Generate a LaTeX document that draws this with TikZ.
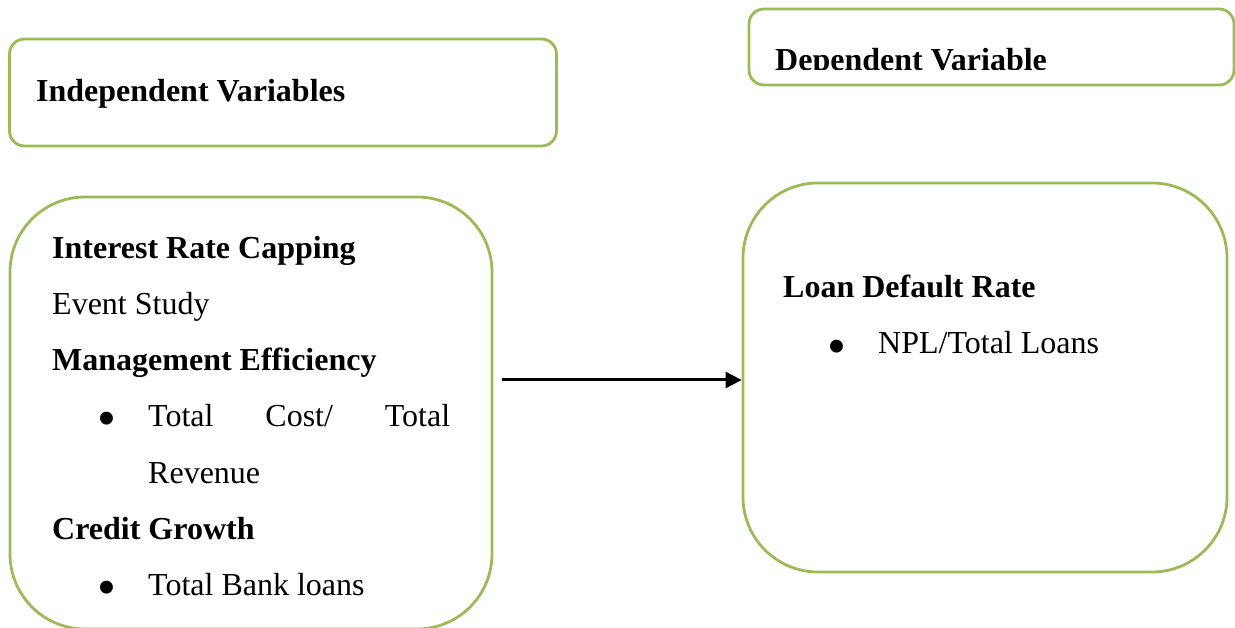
\documentclass[tikz,border=0pt]{standalone}
\usepackage{fontspec}
\setmainfont{Liberation Serif}
\usetikzlibrary{arrows.meta}
\definecolor{olivegreen}{RGB}{155,187,89}
\begin{document}
\begin{tikzpicture}[x=1pt,y=-1pt,
  frame/.style={draw=olivegreen,line width=2.8pt,inner sep=0pt},
  txt/.style={anchor=base west,inner sep=0pt,font=\fontsize{32}{38}\selectfont},
  head/.style={txt,font=\fontsize{32}{38}\selectfont\bfseries},
  dot/.style={inner sep=0pt,font=\fontsize{54}{60}\selectfont}]
\useasboundingbox (0,0) rectangle (1235,628);
%boxes
\node[frame,rounded corners=15pt,minimum width=547pt,minimum height=107pt] (indep) at (283,92.5) {};
\node[frame,rounded corners=15pt,minimum width=485pt,minimum height=76pt] (dep) at (991.5,47) {};
\node[frame,rounded corners=75pt,minimum width=482pt,minimum height=432pt] (lbox) at (251,413) {};
\node[frame,rounded corners=75pt,minimum width=484pt,minimum height=389pt] (rbox) at (985,377.5) {};
%titles
\node[head] (indeptitle) at (36,102) {Independent Variables};
\begin{scope}
\clip (740,0) rectangle (1235,70);
\node[head] (deptitle) at (775,71) {Dependent Variable};
\end{scope}
%left box
\node[head] (irc) at (52,259) {Interest Rate Capping};
\node[txt] (event) at (52,315) {Event Study};
\node[head] (mgmt) at (52,371) {Management Efficiency};
\node[dot] (b1) at (107,424) {\textbullet};
\node[txt] (cost) at (148,427) {\makebox[302pt][s]{Total Cost/ Total}};
\node[txt] (rev) at (148,483) {Revenue};
\node[head] (credit) at (52,539) {Credit Growth};
\node[dot] (b2) at (107,593) {\textbullet};
\node[txt] (loans) at (148,595) {Total Bank loans};
%right box
\node[head] (ldr) at (783,298) {Loan Default Rate};
\node[dot] (b3) at (837,352) {\textbullet};
\node[txt] (npl) at (878,354) {NPL/Total Loans};
%arrow
\coordinate (a) at (502,380);
\draw[line width=3pt,-{Triangle[length=16pt,width=16pt]}] (a) -- (a -| rbox.west);
\end{tikzpicture}
\end{document}
